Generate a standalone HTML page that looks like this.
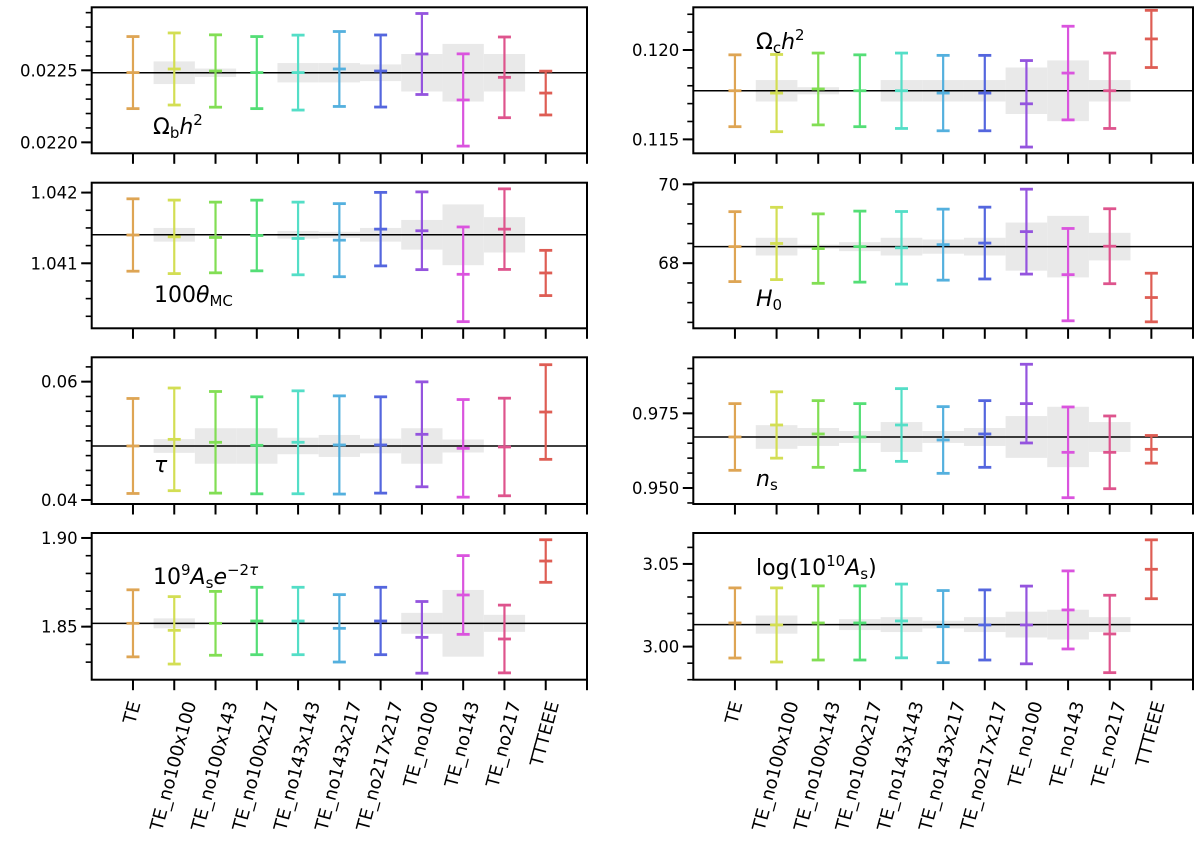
<!DOCTYPE html>
<html><head><meta charset="utf-8">
<style>
html,body{margin:0;padding:0;background:#fff;}
#wrap{position:relative;width:1200px;height:848px;overflow:hidden;font-family:"DejaVu Sans","Liberation Sans",sans-serif;}
svg{position:absolute;left:0;top:0;}
.plabel{position:absolute;font-size:22px;line-height:1;color:#000;white-space:nowrap;font-family:"DejaVu Sans","Liberation Sans",sans-serif;}
.plabel sub{font-size:15px;vertical-align:-4px;}
.plabel sup{font-size:15px;vertical-align:9px;}
</style></head>
<body>
<div id="wrap">
<svg id="chart" width="1200" height="848"></svg>
<div class="plabel" style="left:153px;top:113px;">Ω<sub>b</sub><i>h</i><sup>2</sup></div>
<div class="plabel" style="left:756px;top:28px;">Ω<sub>c</sub><i>h</i><sup>2</sup></div>
<div class="plabel" style="left:154px;top:285px;">100<i>θ</i><sub>MC</sub></div>
<div class="plabel" style="left:756px;top:289px;"><i>H</i><sub>0</sub></div>
<div class="plabel" style="left:154px;top:455px;"><i>τ</i></div>
<div class="plabel" style="left:756px;top:469px;"><i>n</i><sub>s</sub></div>
<div class="plabel" style="left:153px;top:563px;">10<sup>9</sup><i>A</i><sub>s</sub><i>e</i><sup>−2<i>τ</i></sup></div>
<div class="plabel" style="left:756px;top:554px;">log(10<sup>10</sup><i>A</i><sub>s</sub>)</div>
</div>
<script>
const categories=["TE","TE_no100x100","TE_no100x143","TE_no100x217","TE_no143x143","TE_no143x217","TE_no217x217","TE_no100","TE_no143","TE_no217","TTTEEE"];
const hues=[35,65,100,135,170,200,232,268,298,335,4];

const obhFid=0.022483;
const obhC=[0.022484,0.022509,0.022495,0.022484,0.022484,0.022509,0.022495,0.022613,0.022294,0.022451,0.022342];
const obhE=[0.00025,0.00025,0.000251,0.00025,0.00026,0.00026,0.00025,0.000281,0.00032,0.00028,0.000152];
const obhB=[0,0.0000787,0.000029,0,0.000067,0.000067,0.000058,0.00013,0.0002,0.00013,0];
const obhTicks=[0.0220,0.0225];const obhTickLabels=["0.0220","0.0225"];

const thFid=1.041403;
const thC=[1.04140,1.041374,1.041365,1.041393,1.041351,1.041327,1.041483,1.04146,1.040844,1.041483,1.040863];
const thE=[0.000512,0.00052,0.0005,0.0005,0.000514,0.000517,0.00052,0.00055,0.00067,0.00057,0.00032];
const thB=[0,0.000097,0,0,0.000054,0.000043,0.000097,0.00021,0.00043,0.00025,0];
const thTicks=[1.041,1.042];const thTickLabels=["1.041","1.042"];

const tauFid=0.04913;
const tauC=[0.04913,0.05025,0.04975,0.04924,0.04975,0.0493,0.0493,0.0511,0.04873,0.04896,0.05487];
const tauE=[0.00803,0.00868,0.00859,0.0082,0.0087,0.0083,0.00814,0.00887,0.00825,0.00825,0.008];
const tauB=[0,0.00116,0.003,0.003,0.0014,0.00186,0.00124,0.003,0.0011,0,0];
const tauTicks=[0.04,0.06];const tauTickLabels=["0.04","0.06"];

const asFid=1.85188;
const asC=[1.85188,1.84793,1.85188,1.8532,1.8532,1.84906,1.8532,1.84398,1.86786,1.84305,1.8870];
const asE=[0.0189,0.019,0.018,0.019,0.019,0.019,0.019,0.0202,0.0222,0.0191,0.012];
const asB=[0,0.0028,0,0,0,0,0,0.0059,0.0188,0.0048,0];
const asTicks=[1.85,1.90];const asTickLabels=["1.85","1.90"];

const ocFid=0.11772;
const ocC=[0.11772,0.11759,0.11782,0.11772,0.11772,0.11759,0.11759,0.11699,0.11871,0.11772,0.12062];
const ocE=[0.00201,0.00216,0.00201,0.00201,0.00211,0.00211,0.00211,0.00242,0.00262,0.00211,0.0016];
const ocB=[0,0.0006,0.0002,0,0.0006,0.0006,0.0006,0.0013,0.0017,0.0006,0];
const ocTicks=[0.115,0.120];const ocTickLabels=["0.115","0.120"];

const h0Fid=68.42;
const h0C=[68.42,68.50,68.37,68.42,68.39,68.47,68.51,68.80,67.71,68.43,67.13];
const h0E=[0.886,0.916,0.88,0.9,0.92,0.9,0.91,1.076,1.17,0.95,0.616];
const h0B=[0,0.224,0.05,0.114,0.224,0.18,0.224,0.61,0.78,0.35,0];
const h0Ticks=[68,70];const h0TickLabels=["68","70"];

const nsFid=0.96708;
const nsC=[0.96708,0.97109,0.96808,0.96708,0.97109,0.96607,0.96808,0.97824,0.96194,0.96194,0.96295];
const nsE=[0.01116,0.0111,0.01116,0.01116,0.01217,0.01116,0.01116,0.01317,0.01518,0.01217,0.00463];
const nsB=[0,0.00396,0.003,0.002,0.005,0.002,0.003,0.007,0.0101,0.005,0];
const nsTicks=[0.950,0.975];const nsTickLabels=["0.950","0.975"];

const laFid=3.01331;
const laC=[3.01431,3.0131,3.01431,3.01431,3.01552,3.0121,3.0131,3.0131,3.02218,3.00766,3.04677];
const laE=[0.0212,0.0224,0.0224,0.0224,0.0223,0.0218,0.0212,0.0235,0.0236,0.0234,0.0178];
const laB=[0,0.0055,0,0.0033,0.0045,0.0023,0.0045,0.0078,0.009,0.0045,0];
const laTicks=[3.00,3.05];const laTickLabels=["3.00","3.05"];

const NS="http://www.w3.org/2000/svg";
const svg=document.getElementById('chart');
function mk(tag,attrs,parent){const e=document.createElementNS(NS,tag);for(const k in attrs)e.setAttribute(k,attrs[k]);(parent||svg).appendChild(e);return e;}

const L={x0:91.7,x1:587};const R={x0:693.3,x1:1193};
const rows=[[7.3,153.3],[182.7,328.3],[357.3,504],[533,679.7]];

const panels=[
 {name:'omega-b',col:L,row:0,ymin:0.021924,ymax:0.022937,minor:0.0001,fid:obhFid,c:obhC,e:obhE,b:obhB,ticks:obhTicks,tl:obhTickLabels},
 {name:'theta-mc',col:L,row:1,ymin:1.04008,ymax:1.04214,minor:0.00025,fid:thFid,c:thC,e:thE,b:thB,ticks:thTicks,tl:thTickLabels},
 {name:'tau',col:L,row:2,ymin:0.03932,ymax:0.06412,minor:0.0025,fid:tauFid,c:tauC,e:tauE,b:tauB,ticks:tauTicks,tl:tauTickLabels},
 {name:'as-exp',col:L,row:3,ymin:1.8201,ymax:1.9028,minor:0.01,fid:asFid,c:asC,e:asE,b:asB,ticks:asTicks,tl:asTickLabels},
 {name:'omega-c',col:R,row:0,ymin:0.11422,ymax:0.12239,minor:0.001,fid:ocFid,c:ocC,e:ocE,b:ocB,ticks:ocTicks,tl:ocTickLabels},
 {name:'h0',col:R,row:1,ymin:66.35,ymax:70.04,minor:0.5,fid:h0Fid,c:h0C,e:h0E,b:h0B,ticks:h0Ticks,tl:h0TickLabels},
 {name:'ns',col:R,row:2,ymin:0.94465,ymax:0.99374,minor:0.005,fid:nsFid,c:nsC,e:nsE,b:nsB,ticks:nsTicks,tl:nsTickLabels},
 {name:'log-as',col:R,row:3,ymin:2.98,ymax:3.0687,minor:0.01,fid:laFid,c:laC,e:laE,b:laB,ticks:laTicks,tl:laTickLabels}
];

panels.forEach(p=>{
  const x0=p.col.x0,x1=p.col.x1,y0=rows[p.row][0],y1=rows[p.row][1];
  const step=(x1-x0)/12;
  const X=i=>x0+(i+1)*step;
  const Y=v=>y1-(v-p.ymin)/(p.ymax-p.ymin)*(y1-y0);
  const g=mk('g',{});
  
  
  p.b.forEach((h,i)=>{ if(h<=0)return;
    const r=mk('rect',{x:X(i)-step/2,y:Y(p.fid+h),width:step,height:Y(p.fid-h)-Y(p.fid+h),fill:'#e9e9e9'},g);
    
    
  });
  const fl=mk('line',{x1:x0,x2:x1,y1:Y(p.fid),y2:Y(p.fid),stroke:'#000','stroke-width':1.5},g);
  
  
  p.c.forEach((c,i)=>{
    const col='hsl('+hues[i]+',68%,60%)';
    const eg=mk('g',{stroke:col,'stroke-width':2.2},g);
    
    
    const x=X(i),yt=Y(c+p.e[i]),yb=Y(c-p.e[i]),yc=Y(c);
    mk('line',{x1:x,x2:x,y1:yt,y2:yb},eg);
    [yt,yc,yb].forEach(yy=>mk('line',{x1:x-6.5,x2:x+6.5,y1:yy,y2:yy,'stroke-width':2.8},eg));
  });
  const fr=mk('rect',{x:x0,y:y0,width:x1-x0,height:y1-y0,fill:'none',stroke:'#000','stroke-width':2},g);
  
  
  const ax=mk('g',{stroke:'#000','stroke-width':1.6},g);
  
  
  const k0=Math.ceil(p.ymin/p.minor-1e-6),k1=Math.floor(p.ymax/p.minor+1e-6);
  for(let k=k0;k<=k1;k++){const yy=Y(k*p.minor);mk('line',{x1:x0-6,x2:x0,y1:yy,y2:yy},ax);}
  p.ticks.forEach((t,j)=>{const yy=Y(t);mk('line',{x1:x0-10.5,x2:x0,y1:yy,y2:yy,'stroke-width':2},ax);
    const tx=mk('text',{x:x0-14,y:yy+6,'text-anchor':'end','font-size':'16.5px',fill:'#000',stroke:'none','font-family':'DejaVu Sans, Liberation Sans, sans-serif'},g);
    tx.textContent=p.tl[j];
    
    
  });
  const xg=mk('g',{stroke:'#000','stroke-width':2},g);
  
  
  for(let i=0;i<=11;i++){mk('line',{x1:X(i),x2:X(i),y1:y1,y2:y1+10.5},xg);}
  if(p.row===3){
    categories.forEach((cat,i)=>{
      const t=mk('text',{'font-size':'18px','text-anchor':'end',fill:'#000','font-family':'DejaVu Sans, Liberation Sans, sans-serif'},g);
      t.textContent=cat;
      
      
      const len=t.getComputedTextLength();
      const a=75*Math.PI/180;
      const bw=len*Math.cos(a);
      const ex=X(i)+bw/2-1, ey=y1+22;
      t.setAttribute('transform','translate('+ex+','+ey+') rotate(-75) translate(0,6)');
    });
  }
});
</script>
</body></html>
